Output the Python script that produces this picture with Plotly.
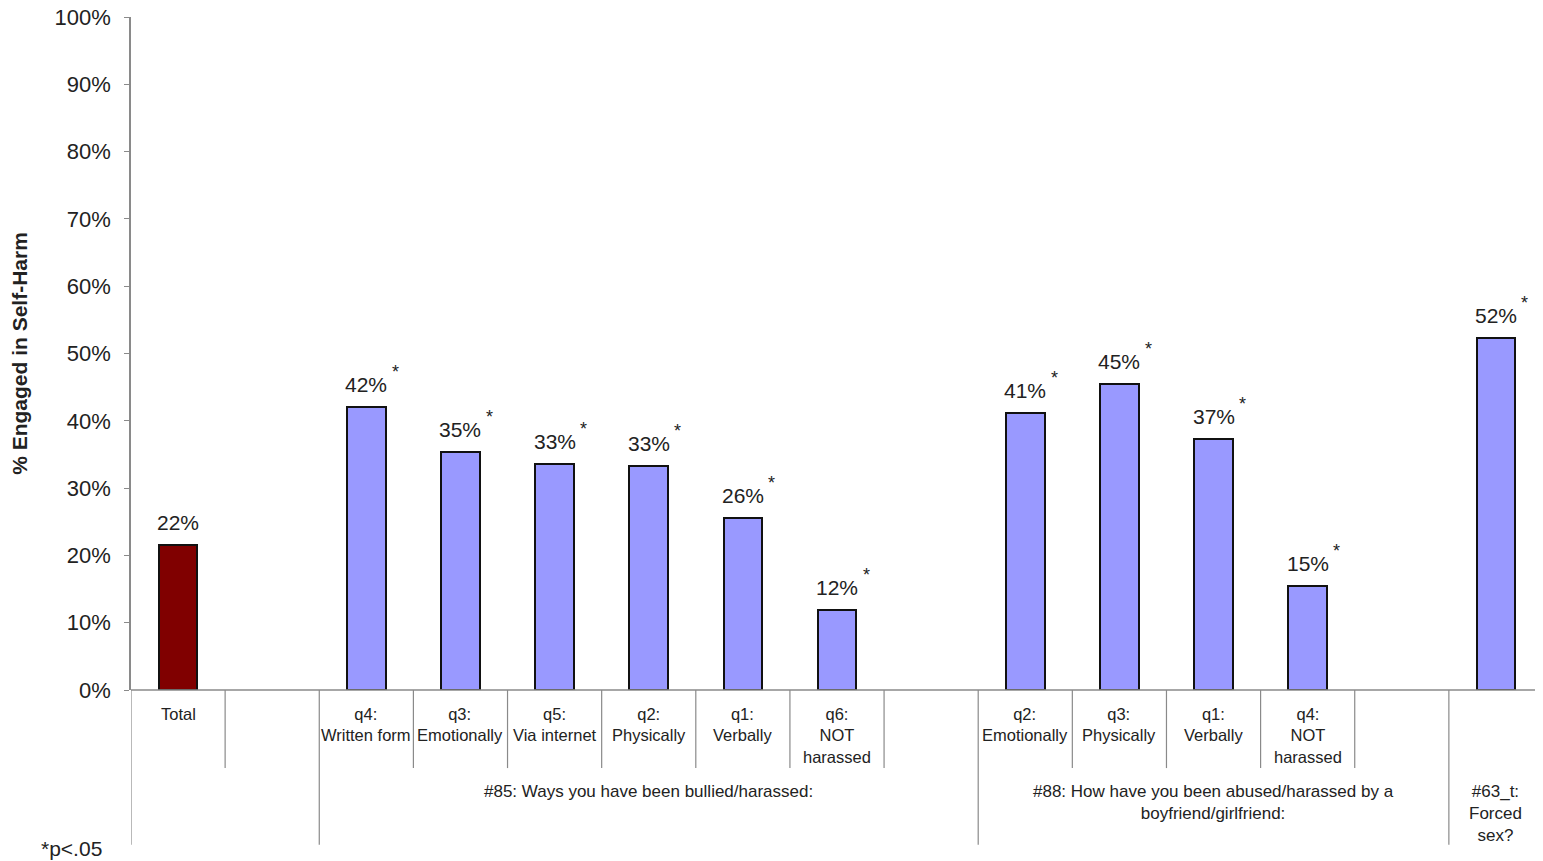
import plotly.graph_objects as go

# ---- data ----
positions = [0, 2, 3, 4, 5, 6, 7, 9, 10, 11, 12, 14]
categories = ["Total",
              "q4:<br>Written form", "q3:<br>Emotionally", "q5:<br>Via internet",
              "q2:<br>Physically", "q1:<br>Verbally", "q6:<br>NOT<br>harassed",
              "q2:<br>Emotionally", "q3:<br>Physically", "q1:<br>Verbally",
              "q4:<br>NOT<br>harassed",
              ""]
values = [21.5, 42.0, 35.3, 33.6, 33.3, 25.6, 11.9, 41.1, 45.4, 37.3, 15.5, 52.3]
value_labels = ["22%", "42%", "35%", "33%", "33%", "26%", "12%", "41%", "45%", "37%", "15%", "52%"]
significant = [False, True, True, True, True, True, True, True, True, True, True, True]
bar_colors = ["#800000"] + ["#9999FF"] * 11

groups = ["#85: Ways you have been bullied/harassed:",
          "#88: How have you been abused/harassed by a<br>boyfriend/girlfriend:",
          "#63_t:<br>Forced<br>sex?"]
group_spans = [(2, 8), (9, 13), (14, 14)]

yticks = [0, 10, 20, 30, 40, 50, 60, 70, 80, 90, 100]
ytick_labels = [f"{v}%" for v in yticks]

FONT = "Liberation Sans, Arial, sans-serif"
TXT = "#222222"

fig = go.Figure()
fig.add_trace(go.Bar(
    x=positions, y=values, width=0.41,
    marker=dict(color=bar_colors, line=dict(color="#111111", width=2)),
    showlegend=False, hoverinfo="skip",
))

ann = []
for p, v, lab, sig in zip(positions, values, value_labels, significant):
    ann.append(dict(x=p, y=v, xref="x", yref="y", text=lab, showarrow=False,
                    xanchor="center", yanchor="bottom", yshift=9,
                    font=dict(family=FONT, size=21, color=TXT)))
    if sig:
        ann.append(dict(x=p, y=v, xref="x", yref="y", text="*", showarrow=False,
                        xanchor="center", yanchor="bottom", yshift=23, xshift=29,
                        font=dict(family=FONT, size=18, color=TXT)))

# category labels (row 1)
for p, c in zip(positions, categories):
    if c:
        ann.append(dict(x=p, y=-0.019, xref="x", yref="paper", text=c, showarrow=False,
                        xanchor="center", yanchor="top",
                        font=dict(family=FONT, size=16.5, color=TXT)))
# group labels (row 2)
for g, (a, b) in zip(groups, group_spans):
    ann.append(dict(x=(a - 0.5 + b + 0.5) / 2, y=-0.134, xref="x", yref="paper", text=g,
                    showarrow=False, xanchor="center", yanchor="top",
                    font=dict(family=FONT, size=17, color=TXT)))

ann.append(dict(x=-0.065, y=-0.2348, xref="paper", yref="paper", text="*p<.05",
                showarrow=False, xanchor="left", yanchor="middle",
                font=dict(family=FONT, size=21, color=TXT)))

shapes = []
long_lines = {0, 2, 9, 14}
for i in range(0, 15):
    xb = i - 0.5
    y1 = -0.230 if i in long_lines else -0.116
    shapes.append(dict(type="line", xref="x", yref="paper", x0=xb, x1=xb, y0=0, y1=y1,
                       line=dict(color="#8a8a8a", width=1.2)))
shapes.append(dict(type="line", xref="paper", yref="paper", x0=0, x1=1, y0=0, y1=0,
                   line=dict(color="#8a8a8a", width=1.5)))

fig.update_layout(
    width=1535, height=853,
    margin=dict(l=123, r=0, t=9, b=171, autoexpand=False),
    paper_bgcolor="white", plot_bgcolor="white",
    annotations=ann, shapes=shapes,
    bargap=0,
    xaxis=dict(range=[-0.5, 14.5], showticklabels=False, showgrid=False,
               zeroline=False, showline=False, ticks="", automargin=False),
    yaxis=dict(range=[0, 100], tickvals=yticks, ticktext=ytick_labels,
               showgrid=False, zeroline=False, showline=True, linecolor="#8a8a8a",
               linewidth=1.5, ticks="outside", ticklen=5, tickcolor="#8a8a8a",
               ticklabelstandoff=9, ticklabeloverflow="allow", automargin=False,
               tickfont=dict(family=FONT, size=22, color=TXT),
               title=dict(text="<b>% Engaged in Self-Harm</b>", standoff=36,
                          font=dict(family=FONT, size=21, color=TXT))),
)

fig.write_html("out.html")
